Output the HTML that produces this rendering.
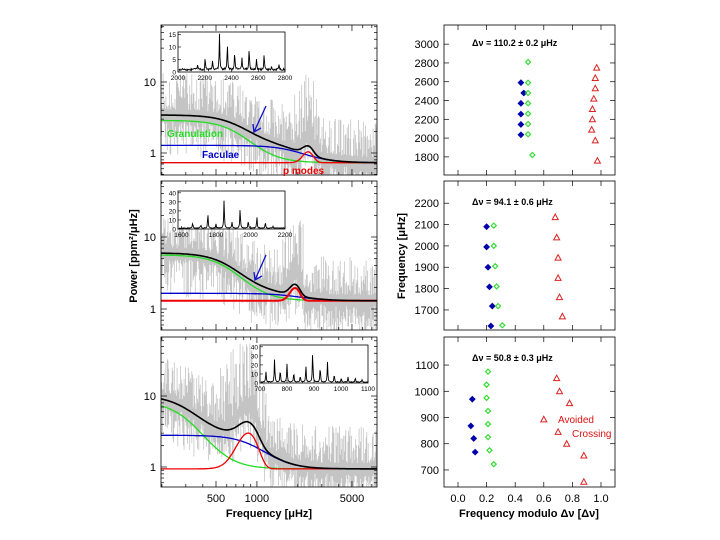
<!DOCTYPE html>
<html><head><meta charset="utf-8"><style>
html,body{margin:0;padding:0;background:#fff;}
svg{display:block;font-family:"Liberation Sans",sans-serif;}
</style></head><body>
<svg id="fig" width="720" height="540" viewBox="0 0 720 540" xmlns="http://www.w3.org/2000/svg">
<defs>
<clipPath id="cl0"><rect x="161" y="25" width="216" height="150"/></clipPath>
<clipPath id="cl1"><rect x="161" y="181" width="216" height="149"/></clipPath>
<clipPath id="cl2"><rect x="161" y="337" width="216" height="150"/></clipPath>
</defs>
<g id="root"></g>
<text x="137" y="256" transform="rotate(-90 137 256)" text-anchor="middle" font-size="11" font-weight="bold">Power  [ppm²/μHz]</text>
<text x="405" y="256" transform="rotate(-90 405 256)" text-anchor="middle" font-size="11" font-weight="bold">Frequency  [μHz]</text>
<text x="269" y="517" text-anchor="middle" font-size="11" font-weight="bold">Frequency  [μHz]</text>
<text x="529" y="517" text-anchor="middle" font-size="11" font-weight="bold">Frequency modulo Δν  [Δν]</text>
</svg>
<script>
// ---- background-fit parameters per star ----
const whiteNoise = [0.73, 1.30, 0.94];
const granAmp = [2.15, 4.35, 7.4];
const granFreq = [750, 640, 306];
const facAmp = [0.55, 0.35, 1.86];
const facFreq = [2070, 2000, 1000];
const modeHeight = [0.31, 0.66, 2.06];
const numax = [2380, 1905, 861];
const modeWidth = [200, 150, 130];

// ---- inset spectra peaks ----
const inset0Freq = [2146,2203,2258,2310,2369,2424,2478,2532,2587,2644,2698,2755];
const inset0Pow = [2,4.6,3.7,14.5,10.3,7.3,5,9,4,6.5,1,1.7];
const inset1Freq = [1665,1712,1753,1800,1847,1893,1940,1987,2037,2086,2130];
const inset1Pow = [5.8,4,16,5,32,7,22,8.5,13,6.5,2];
const inset2Freq = [722,754,775,800,825,849,870,895,923,950,975,1001,1026,1053,1078];
const inset2Pow = [11.7,26,14,20,11,7,18,35,17,22,9,5,6,5,3];

// ---- echelle diagrams ----
const ech0BlueX=[0.44,0.46,0.44,0.44,0.44,0.44];
const ech0BlueY=[2590,2480,2370,2255,2145,2035];
const ech0GreenX=[0.49,0.49,0.49,0.49,0.49,0.49,0.49,0.52];
const ech0GreenY=[2810,2590,2480,2370,2260,2150,2040,1820];
const ech0RedX=[0.97,0.96,0.96,0.95,0.94,0.94,0.935,0.96,0.975];
const ech0RedY=[2750,2640,2530,2420,2310,2200,2090,1975,1760];
const ech1BlueX=[0.20,0.20,0.21,0.22,0.24,0.23];
const ech1BlueY=[2090,1995,1900,1808,1718,1625];
const ech1GreenX=[0.25,0.25,0.26,0.27,0.28,0.31];
const ech1GreenY=[2095,2000,1905,1810,1718,1628];
const ech1RedX=[0.68,0.69,0.70,0.70,0.71,0.73];
const ech1RedY=[2135,2040,1945,1850,1760,1670];
const ech2BlueX=[0.10,0.09,0.11,0.12];
const ech2BlueY=[970,868,820,768];
const ech2GreenX=[0.21,0.20,0.20,0.21,0.21,0.21,0.22,0.25];
const ech2GreenY=[1075,1025,975,925,875,825,775,722];
const ech2RedX=[0.69,0.71,0.78,0.60,0.70,0.76,0.88,0.88];
const ech2RedY=[1050,1000,955,893,845,800,755,655];
const dnuLabels=["Δν = 110.2 ± 0.2 μHz","Δν = 94.1 ± 0.6 μHz","Δν = 50.8 ± 0.3 μHz"];

const NS="http://www.w3.org/2000/svg";
const root=document.getElementById('root');
function mk(tag,attrs,parent){const e=document.createElementNS(NS,tag);for(const k in attrs)e.setAttribute(k,attrs[k]);(parent||root).appendChild(e);return e;}
function txt(x,y,s,attrs,parent){const e=mk('text',Object.assign({x:x,y:y},attrs||{}),parent);e.textContent=s;return e;}

const LX0=161,LX1=377,FMIN=197,FMAX=7640;
const panelY=[[25,175],[181,330],[337,487]];
const yOne=[153,309,467], yDec=[71,72,71];
function xf(f){return LX0+(Math.log10(f)-Math.log10(FMIN))/(Math.log10(FMAX)-Math.log10(FMIN))*(LX1-LX0);}
function fx(x){return Math.pow(10,Math.log10(FMIN)+(x-LX0)/(LX1-LX0)*(Math.log10(FMAX)-Math.log10(FMIN)));}
function yp(i,v){return yOne[i]-yDec[i]*Math.log10(v);}
function gran(i,f){return granAmp[i]/(1+Math.pow(f/granFreq[i],4));}
function fac(i,f){return facAmp[i]/(1+Math.pow(f/facFreq[i],4));}
function mode(i,f){return modeHeight[i]*Math.exp(-0.5*Math.pow((f-numax[i])/modeWidth[i],2));}
// deterministic texture for the raw spectrum
function tex(n){const s=Math.sin(n*12.9898+78.233)*43758.5453;return s-Math.floor(s);}

for(let i=0;i<3;i++){
  const [y0,y1]=panelY[i];
  const g=mk('g',{});
  
  
  const c=mk('g',{'clip-path':'url(#cl'+i+')'},g);
  // raw spectrum texture
  let d='';
  for(let x=LX0;x<=LX1;x+=0.7){
    const f=fx(x);
    const m=whiteNoise[i]+gran(i,f)+fac(i,f)+mode(i,f)*2.5;
    const r1=tex(x*3.1+i*100), r2=tex(x*7.7+i*50);
    const hi=m*(1.2+2.8*r1*r1*(1+ (Math.abs(f-numax[i])<2.5*modeWidth[i]?2.5*r2:0)));
    const lo=m*(0.25+0.6*r2);
    d+='M'+x.toFixed(1)+' '+yp(i,hi).toFixed(1)+'V'+yp(i,lo).toFixed(1);
  }
  const sp=mk('path',{d:d,stroke:'#c4c4c4','stroke-width':0.8,fill:'none'},c);
  
  
  function curve(fn,color,w,name){
    let p='';
    for(let x=LX0;x<=LX1;x+=1){const f=fx(x);p+=(p?'L':'M')+x+' '+yp(i,fn(f)).toFixed(1);}
    const e=mk('path',{d:p,stroke:color,'stroke-width':w,fill:'none'},c);
    
    
  }
  curve(f=>whiteNoise[i]+gran(i,f),'#22dd22',1.3,'granulation-curve');
  curve(f=>whiteNoise[i]+fac(i,f),'#0000cc',1.3,'faculae-curve');
  curve(f=>whiteNoise[i]+mode(i,f),'#ee0000',i==1?2:1.3,'p-modes-curve');
  curve(f=>whiteNoise[i]+gran(i,f)+fac(i,f)+mode(i,f),'#000',1.6,'total-fit-curve');
  const fr=mk('rect',{x:LX0,y:y0,width:LX1-LX0,height:y1-y0,fill:'none',stroke:'#000','stroke-width':0.8},g);
  
  
  // y ticks
  for(let dec=0.1;dec<=10;dec*=10){
    for(let k=1;k<10;k++){
      const v=dec*k, y=yp(i,v);
      if(y<y0||y>y1)continue;
      const L=(k==1)?6:3;
      mk('line',{x1:LX0,x2:LX0+L,y1:y,y2:y,stroke:'#000','stroke-width':0.7},g);
      mk('line',{x1:LX1,x2:LX1-L,y1:y,y2:y,stroke:'#000','stroke-width':0.7},g);
      if(k==1&&(v==1||v==10)){const t=txt(LX0-5,y+4,String(Math.round(v)),{'text-anchor':'end','font-size':11},g);
        }
    }
  }
  // x ticks
  for(let dec=100;dec<=1000;dec*=10){
    for(let k=1;k<10;k++){
      const f=dec*k; if(f<FMIN||f>FMAX)continue;
      const x=xf(f), L=(f==500||f==1000||f==5000)?6:3;
      mk('line',{x1:x,x2:x,y1:y1,y2:y1-L,stroke:'#000','stroke-width':0.7},g);
      mk('line',{x1:x,x2:x,y1:y0,y2:y0+L,stroke:'#000','stroke-width':0.7},g);
      if(i==2&&L==6){const t=txt(x,502,String(f),{'text-anchor':'middle','font-size':11},g);
        }
    }
  }
}

// labels
let t;
t=txt(167,137,'Granulation',{fill:'#22dd22','font-size':10,'font-weight':'bold'});
t=txt(202,158,'Faculae',{fill:'#0000cc','font-size':10,'font-weight':'bold'});
t=txt(283,174,'p  modes',{fill:'#ee0000','font-size':10,'font-weight':'bold'});
[[266,106,254,132],[266,255,255,280]].forEach(a=>{
  const g=mk('g',{stroke:'#1010cc','stroke-width':1.3,fill:'none'});
  
  mk('line',{x1:a[0],y1:a[1],x2:a[2],y2:a[3]},g);
  mk('path',{d:'M'+(a[2]-1)+' '+(a[3]-8)+'L'+a[2]+' '+a[3]+'L'+(a[2]+7)+' '+(a[3]-4)},g);
});

// insets
const insets=[
 {fr:inset0Freq,pw:inset0Pow,x0:178,x1:285,y0:32,y1:72,fmin:2000,fmax:2800,pmax:16,xt:[2000,2200,2400,2600,2800],yt:[0,5,10,15]},
 {fr:inset1Freq,pw:inset1Pow,x0:178,x1:285,y0:191,y1:229,fmin:1580,fmax:2200,pmax:42,xt:[1600,1800,2000,2200],yt:[0,10,20,30,40]},
 {fr:inset2Freq,pw:inset2Pow,x0:260,x1:368,y0:345,y1:383,fmin:700,fmax:1100,pmax:42,xt:[700,800,900,1000,1100],yt:[0,10,20,30,40]}];
insets.forEach((s,j)=>{
  const g=mk('g',{});
  
  mk('rect',{x:s.x0,y:s.y0,width:s.x1-s.x0,height:s.y1-s.y0,fill:'#fff',stroke:'#000','stroke-width':0.8},g);
  const X=f=>s.x0+(f-s.fmin)/(s.fmax-s.fmin)*(s.x1-s.x0);
  const Y=p=>s.y1-p/s.pmax*(s.y1-s.y0);
  let d='';
  for(let x=s.x0+1;x<s.x1;x+=0.5){
    const f=s.fmin+(x-s.x0)/(s.x1-s.x0)*(s.fmax-s.fmin);
    let p=0.6+0.8*tex(x*5+j);
    s.fr.forEach((fr,k)=>{const w=(s.fmax-s.fmin)/300;p+=s.pw[k]/(1+Math.pow((f-fr)/w,2));});
    d+=(d?'L':'M')+x+' '+Y(Math.min(p,s.pmax)).toFixed(1);
  }
  const ln=mk('path',{d:d,stroke:'#000','stroke-width':0.9,fill:'none'},g);
  
  s.xt.forEach(v=>{const x=X(v);mk('line',{x1:x,x2:x,y1:s.y1,y2:s.y1-3,stroke:'#000','stroke-width':0.6},g);
    const tt=txt(x,s.y1+8,String(v),{'text-anchor':'middle','font-size':6.5},g);});
  s.yt.forEach(v=>{const y=Y(v);mk('line',{x1:s.x0,x2:s.x0+3,y1:y,y2:y,stroke:'#000','stroke-width':0.6},g);
    const tt=txt(s.x0-2,y+2.5,String(v),{'text-anchor':'end','font-size':6.5},g);});
});

// echelle panels
const RX0=444,RX1=615;
const rRange=[[1607,3204],[1606,2304],[635,1207]];
const rTicks=[[1800,2000,2200,2400,2600,2800,3000],[1700,1800,1900,2000,2100,2200],[700,800,900,1000,1100]];
const ech=[[ech0BlueX,ech0BlueY,ech0GreenX,ech0GreenY,ech0RedX,ech0RedY],
 [ech1BlueX,ech1BlueY,ech1GreenX,ech1GreenY,ech1RedX,ech1RedY],
 [ech2BlueX,ech2BlueY,ech2GreenX,ech2GreenY,ech2RedX,ech2RedY]];
function xr(v){return 458+143*v;}
for(let i=0;i<3;i++){
  const [y0,y1]=panelY[i],[v0,v1]=rRange[i];
  const Y=v=>y1-(v-v0)/(v1-v0)*(y1-y0);
  const g=mk('g',{});
  
  mk('rect',{x:RX0,y:y0,width:RX1-RX0,height:y1-y0,fill:'none',stroke:'#000','stroke-width':0.8},g);
  rTicks[i].forEach(v=>{const y=Y(v);
    mk('line',{x1:RX0,x2:RX0+5,y1:y,y2:y,stroke:'#000','stroke-width':0.7},g);
    mk('line',{x1:RX1,x2:RX1-5,y1:y,y2:y,stroke:'#000','stroke-width':0.7},g);
    const tt=txt(RX0-5,y+4,String(v),{'text-anchor':'end','font-size':11},g);});
  for(let k=0;k<=5;k++){const v=k*0.2,x=xr(v);
    mk('line',{x1:x,x2:x,y1:y1,y2:y1-5,stroke:'#000','stroke-width':0.7},g);
    mk('line',{x1:x,x2:x,y1:y0,y2:y0+5,stroke:'#000','stroke-width':0.7},g);
    if(i==2){const tt=txt(x,502,v.toFixed(1),{'text-anchor':'middle','font-size':11},g);}}
  const lab=txt(472,[46,205,361][i],dnuLabels[i],{'font-size':9,'font-weight':'bold'},g);
  
  const [bx,by,gx,gy,rx,ry]=ech[i];
  bx.forEach((v,k)=>{const x=xr(v),y=Y(by[k]);
    const m=mk('path',{d:`M${x-3} ${y}L${x} ${y-3}L${x+3} ${y}L${x} ${y+3}Z`,fill:'#0000aa',stroke:'#0000aa','stroke-width':0.6},g);
    });
  gx.forEach((v,k)=>{const x=xr(v),y=Y(gy[k]);
    const m=mk('path',{d:`M${x-2.5} ${y}L${x} ${y-2.5}L${x+2.5} ${y}L${x} ${y+2.5}Z`,fill:'none',stroke:'#33dd33','stroke-width':1.2},g);
    });
  rx.forEach((v,k)=>{const x=xr(v),y=Y(ry[k]);
    const m=mk('path',{d:`M${x-3} ${y+2.5}L${x} ${y-3}L${x+3} ${y+2.5}Z`,fill:'none',stroke:'#dd2222','stroke-width':1},g);
    });
}
t=txt(558,423,'Avoided',{fill:'#dd1111','font-size':10});
t=txt(572,437,'Crossing',{fill:'#dd1111','font-size':10});
</script>
</body></html>
